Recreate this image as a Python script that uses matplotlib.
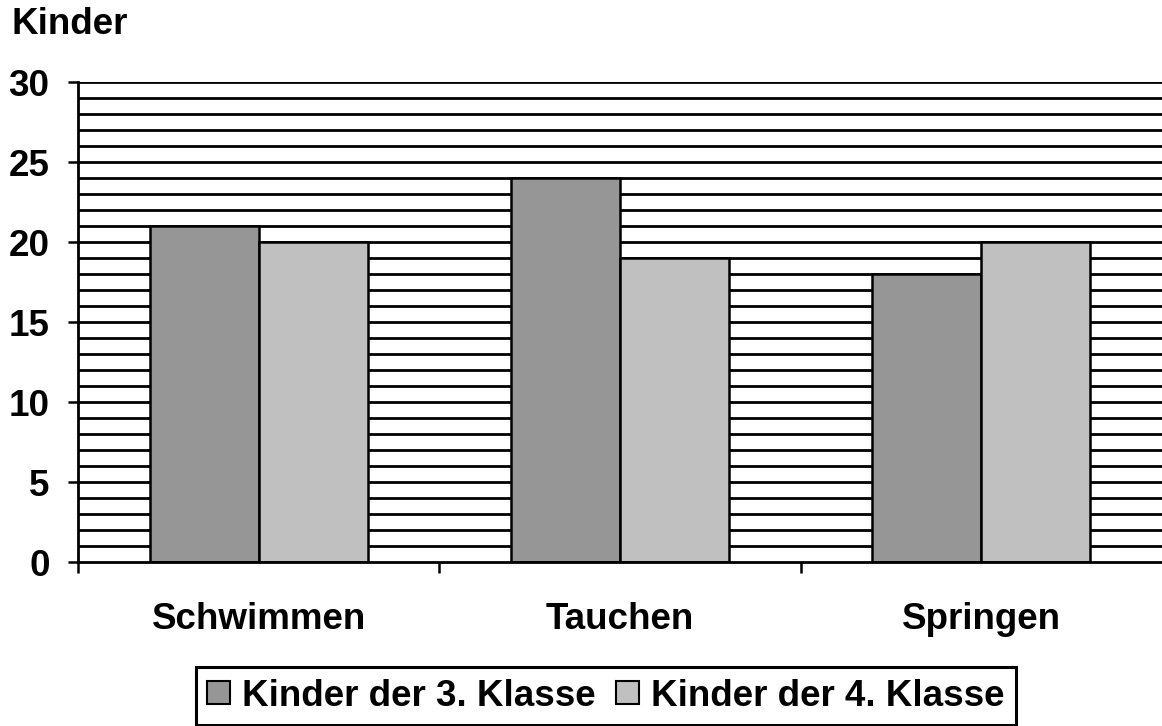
import numpy as np
import matplotlib
matplotlib.use('Agg')
from matplotlib import pyplot as plt
from matplotlib.patches import Patch

categories = ['Schwimmen', 'Tauchen', 'Springen']
series_names = ['Kinder der 3. Klasse', 'Kinder der 4. Klasse']
klasse3 = [21, 24, 18]
klasse4 = [20, 19, 20]
colors = ['#969696', '#c0c0c0']
y_ticks = [0, 5, 10, 15, 20, 25, 30]

plt.rcParams['font.family'] = ['Liberation Sans', 'DejaVu Sans']
plt.rcParams['font.weight'] = 'bold'
fs = 26.5

fig = plt.figure(figsize=(11.62, 7.26), dpi=100)
ax = fig.add_axes([78/1162, 1 - 562/726, 1 - 78/1162, (562 - 82)/726])

x = np.arange(len(categories))
w = 0.302
ax.bar(x - w/2, klasse3, w, color=colors[0], edgecolor='black', linewidth=1.8, zorder=3)
ax.bar(x + w/2, klasse4, w, color=colors[1], edgecolor='black', linewidth=1.8, zorder=3)

# horizontal grid every unit
for v in range(1, 31):
    ax.axhline(v, color='black', linewidth=2.0, zorder=1)

ax.set_xlim(-0.5, 2.5)
ax.set_ylim(0, 30)
ax.set_yticks(y_ticks)
ax.set_yticklabels([str(t) for t in y_ticks], fontsize=fs, fontweight='bold')
ax.tick_params(axis='y', direction='out', length=7.5, width=1.8, pad=13)

ax.set_xticks(x)
ax.set_xticklabels(categories, fontsize=fs, fontweight='bold')
ax.set_xticks([-0.5, 0.5, 1.5], minor=True)
ax.tick_params(axis='x', which='major', length=0, pad=29)
ax.tick_params(axis='x', which='minor', direction='out', length=8, width=1.8)

for s in ['top', 'right']:
    ax.spines[s].set_visible(False)
for s in ['left', 'bottom']:
    ax.spines[s].set_linewidth(2.0)
    ax.spines[s].set_zorder(4)

fig.text(11/1162, 1 - 25/726, 'Kinder', fontsize=fs, fontweight='bold', va='center', ha='left')

handles = [Patch(facecolor=c, edgecolor='black', linewidth=1.5) for c in colors]
leg = fig.legend(handles, series_names, loc='center', bbox_to_anchor=(606/1162, 1 - 696/726),
                 ncol=2, fontsize=fs, frameon=True, fancybox=False, framealpha=1,
                 edgecolor='black', handlelength=0.62, handleheight=0.62,
                 handletextpad=0.33, columnspacing=0.55, borderpad=0.3, borderaxespad=0)
leg.get_frame().set_linewidth(2.2)
for t in leg.get_texts():
    t.set_fontweight('bold')

fig.savefig('out.png', dpi=100)
